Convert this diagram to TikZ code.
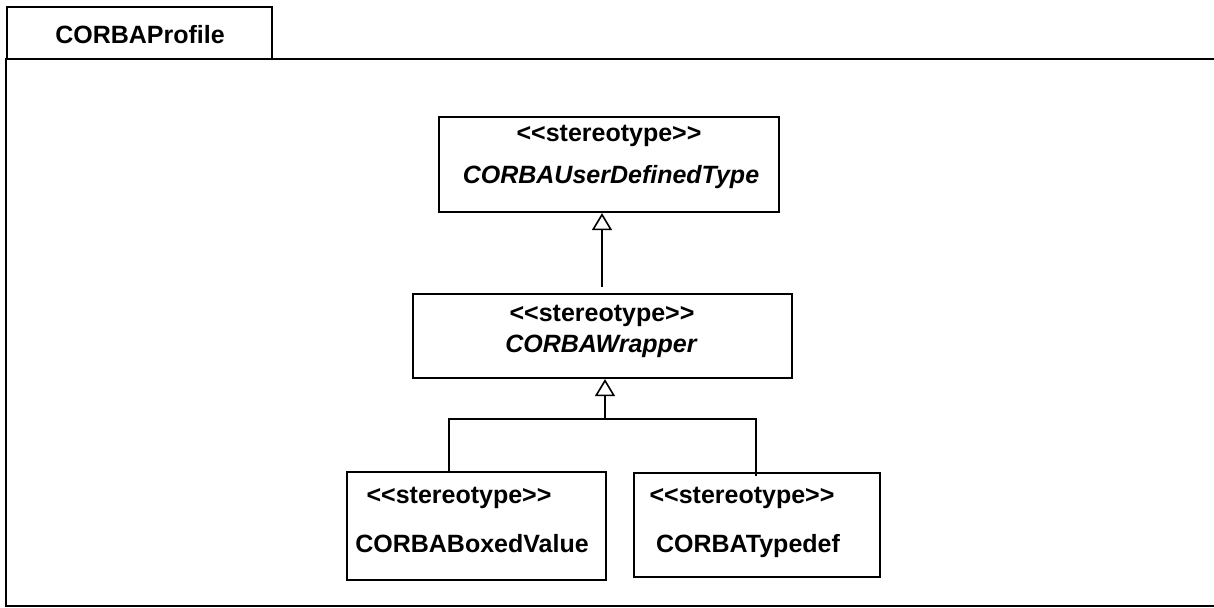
\documentclass[tikz,border=0pt]{standalone}
\usepackage{fontspec}
\setmainfont{Liberation Sans}
\usepackage{tikz}
\usetikzlibrary{calc}
\usetikzlibrary{arrows.meta}
\tikzstyle{every node}=[font=\fontsize{12.5}{15}\selectfont\bfseries, inner sep=0pt]
\tikzstyle{umlbox}=[draw, line width=1.1pt, rectangle]
\tikzstyle{frame}=[line width=1.3pt]
\tikzstyle{conn}=[line width=0.8pt]
\tikzstyle{gen}=[conn, -{Triangle[open, length=8.5pt, width=10pt]}]
\tikzstyle{cname}=[font=\fontsize{12.5}{15}\selectfont\bfseries\itshape]
\newcommand{\stype}{<\kern0pt<stereotype>\kern0pt>}

\begin{document}
\begin{tikzpicture}[x=0.5pt, y=-0.5pt]
                \useasboundingbox (0,0) rectangle (1214,607);

                % package frame and its tab
                \draw[frame] (7,59) -- (7,7) -- (272,7) -- (272,59);
                \draw[frame] (1230,59) -- (6,59) -- (6,606) -- (1230,606);
                \node [anchor=base] (pkg) at (140,43) {CORBAProfile};

                \node [umlbox, minimum width=170pt, minimum height=47.5pt] (udt) at (609,164.5) {};
                \node [umlbox, minimum width=189.5pt, minimum height=42pt] (wrap) at (602.5,336) {};
                \node [umlbox, minimum width=129.5pt, minimum height=54pt] (boxed) at (476.5,526) {};
                \node [umlbox, minimum width=123pt, minimum height=52pt] (tdef) at (757,525) {};

                \node [anchor=base] (udtst) at (609,141) {\stype};
                \node [anchor=base, cname] (udtnm) at (611,183) {CORBAUserDefinedType};
                \node [anchor=base] (wrapst) at (602,321) {\stype};
                \node [anchor=base, cname] (wrapnm) at (601,352) {CORBAWrapper};
                \node [anchor=base] (boxedst) at (459,503) {\stype};
                \node [anchor=base] (boxednm) at (472,552) {CORBABoxedValue};
                \node [anchor=base] (tdefst) at (742,503) {\stype};
                \node [anchor=base] (tdefnm) at (748,552) {CORBATypedef};

                \coordinate (split) at (605,419);
                \coordinate (jl) at (449,419);
                \coordinate (jr) at (756,419);

                \draw[gen] ([yshift=3pt]wrap.north -| 602,0) -- (udt.south -| 602,0);
                \draw[gen] (split) -- (wrap.south -| split);
                \draw[conn] (jl |- boxed.north) -- (jl) -- (jr) -- ($(jr |- tdef.north)+(0,4)$);

            \end{tikzpicture}
\end{document}
